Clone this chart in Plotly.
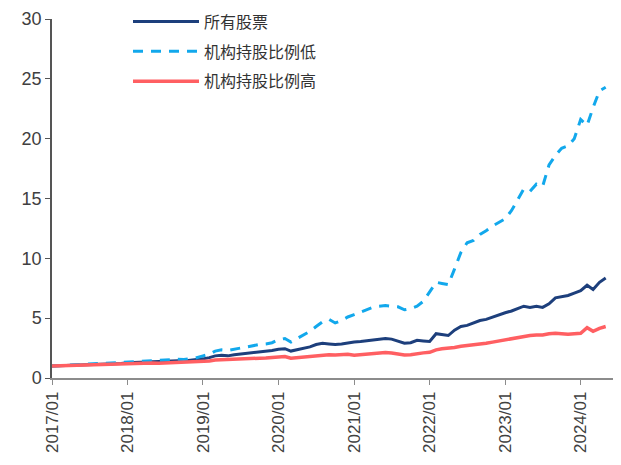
import pandas as pd
import plotly.graph_objects as go

dates = pd.date_range("2017-01-01", "2024-05-01", freq="MS")

all_stocks = [
    1.00, 1.02, 1.05, 1.06, 1.05, 1.08, 1.10, 1.13, 1.16, 1.17, 1.18, 1.22,
    1.28, 1.27, 1.32, 1.33, 1.36, 1.34, 1.38, 1.40, 1.44, 1.42, 1.48, 1.50,
    1.60, 1.70, 1.85, 1.90, 1.85, 1.95, 2.00, 2.05, 2.10, 2.15, 2.20, 2.30,
    2.40, 2.45, 2.25, 2.35, 2.45, 2.60, 2.80, 2.90, 2.85, 2.80, 2.85, 2.95,
    3.00, 3.05, 3.10, 3.20, 3.25, 3.30, 3.25, 3.10, 2.90, 2.95, 3.15, 3.10,
    3.05, 3.70, 3.60, 3.55, 4.00, 4.30, 4.40, 4.60, 4.80, 4.90, 5.10, 5.30,
    5.45, 5.60, 5.80, 6.00, 5.90, 6.00, 5.90, 6.20, 6.70, 6.80, 6.90, 7.10,
    7.30, 7.75, 7.40, 8.00, 8.35,
]

low_inst = [
    1.00, 1.03, 1.06, 1.05, 1.07, 1.12, 1.15, 1.18, 1.22, 1.22, 1.25, 1.30,
    1.35, 1.37, 1.42, 1.44, 1.47, 1.45, 1.50, 1.52, 1.56, 1.55, 1.62, 1.70,
    1.85, 2.00, 2.25, 2.35, 2.30, 2.40, 2.55, 2.65, 2.75, 2.80, 2.85, 2.95,
    3.20, 3.30, 3.00, 3.30, 3.60, 3.90, 4.30, 4.70, 4.90, 4.60, 4.80, 5.10,
    5.30, 5.50, 5.70, 5.90, 6.00, 6.05, 6.00, 5.95, 5.70, 5.80, 6.00, 6.40,
    7.20, 8.00, 7.90, 7.80, 9.10, 10.50, 11.30, 11.50, 12.00, 12.30, 12.70, 13.00,
    13.30, 14.00, 14.80, 15.80, 15.60, 16.20, 16.00, 17.80, 18.60, 19.20, 19.40, 20.00,
    21.60, 21.10, 22.60, 24.00, 24.30,
]

high_inst = [
    1.00, 1.02, 1.04, 1.05, 1.05, 1.07, 1.08, 1.10, 1.12, 1.13, 1.14, 1.17,
    1.20, 1.19, 1.22, 1.23, 1.25, 1.24, 1.26, 1.27, 1.30, 1.28, 1.32, 1.33,
    1.36, 1.42, 1.50, 1.52, 1.50, 1.55, 1.57, 1.60, 1.62, 1.65, 1.68, 1.72,
    1.77, 1.80, 1.65, 1.70, 1.75, 1.80, 1.90, 1.95, 1.95, 1.92, 1.95, 1.98,
    1.90, 1.95, 2.00, 2.05, 2.10, 2.12, 2.08, 2.00, 1.92, 1.95, 2.05, 2.10,
    2.15, 2.35, 2.45, 2.48, 2.55, 2.65, 2.70, 2.76, 2.85, 2.90, 3.00, 3.10,
    3.18, 3.25, 3.35, 3.50, 3.55, 3.60, 3.60, 3.70, 3.74, 3.70, 3.65, 3.70,
    3.74, 4.20, 3.90, 4.15, 4.30,
]

names = ["所有股票", "机构持股比例低", "机构持股比例高"]
x_ticks = pd.date_range("2017-01-01", "2024-01-01", freq="YS")
x_labels = [d.strftime("%Y/%m") for d in x_ticks]
y_ticks = [0, 5, 10, 15, 20, 25, 30]

fig = go.Figure()
fig.add_trace(go.Scatter(x=dates, y=all_stocks, name=names[0], mode="lines",
                         line=dict(color="#1d3f7c", width=3), legendgroup="a"))
fig.add_trace(go.Scatter(x=dates, y=low_inst, name=names[1], mode="lines",
                         line=dict(color="#12a8ec", width=3, dash="10px,8px"), legendgroup="b"))
fig.add_trace(go.Scatter(x=dates, y=high_inst, name=names[2], mode="lines",
                         line=dict(color="#ff5f62", width=3.5), legendgroup="c"))

fig.update_layout(
    width=613, height=457,
    margin=dict(l=44, r=6, t=11, b=87, autoexpand=False),
    plot_bgcolor="white", paper_bgcolor="white",
    font=dict(family="Liberation Sans, Arial, sans-serif", size=17, color="#404040"),
    showlegend=True,
    legend=dict(x=0.135, y=1.04, xanchor="left", yanchor="top",
                font=dict(family="Noto Sans CJK SC", size=16, color="#333333"),
                itemwidth=66, tracegroupgap=6, bgcolor="rgba(0,0,0,0)"),
)
fig.update_xaxes(
    range=["2017-01-01", "2024-06-15"], automargin=False,
    tickvals=x_ticks, ticktext=x_labels, tickangle=-90,
    showgrid=False, zeroline=False,
    showline=True, linecolor="#8c8c8c", linewidth=1.5,
    ticks="outside", ticklen=5, tickcolor="#8c8c8c",
    tickfont=dict(size=17, color="#404040"),
)
fig.update_yaxes(
    range=[0, 30], tickvals=y_ticks, automargin=False,
    showgrid=False, zeroline=False,
    showline=True, linecolor="#555555", linewidth=1.5,
    ticks="outside", ticklen=5, tickcolor="#555555",
    tickfont=dict(size=18, color="#404040"),
)

fig.write_html("out.html")
